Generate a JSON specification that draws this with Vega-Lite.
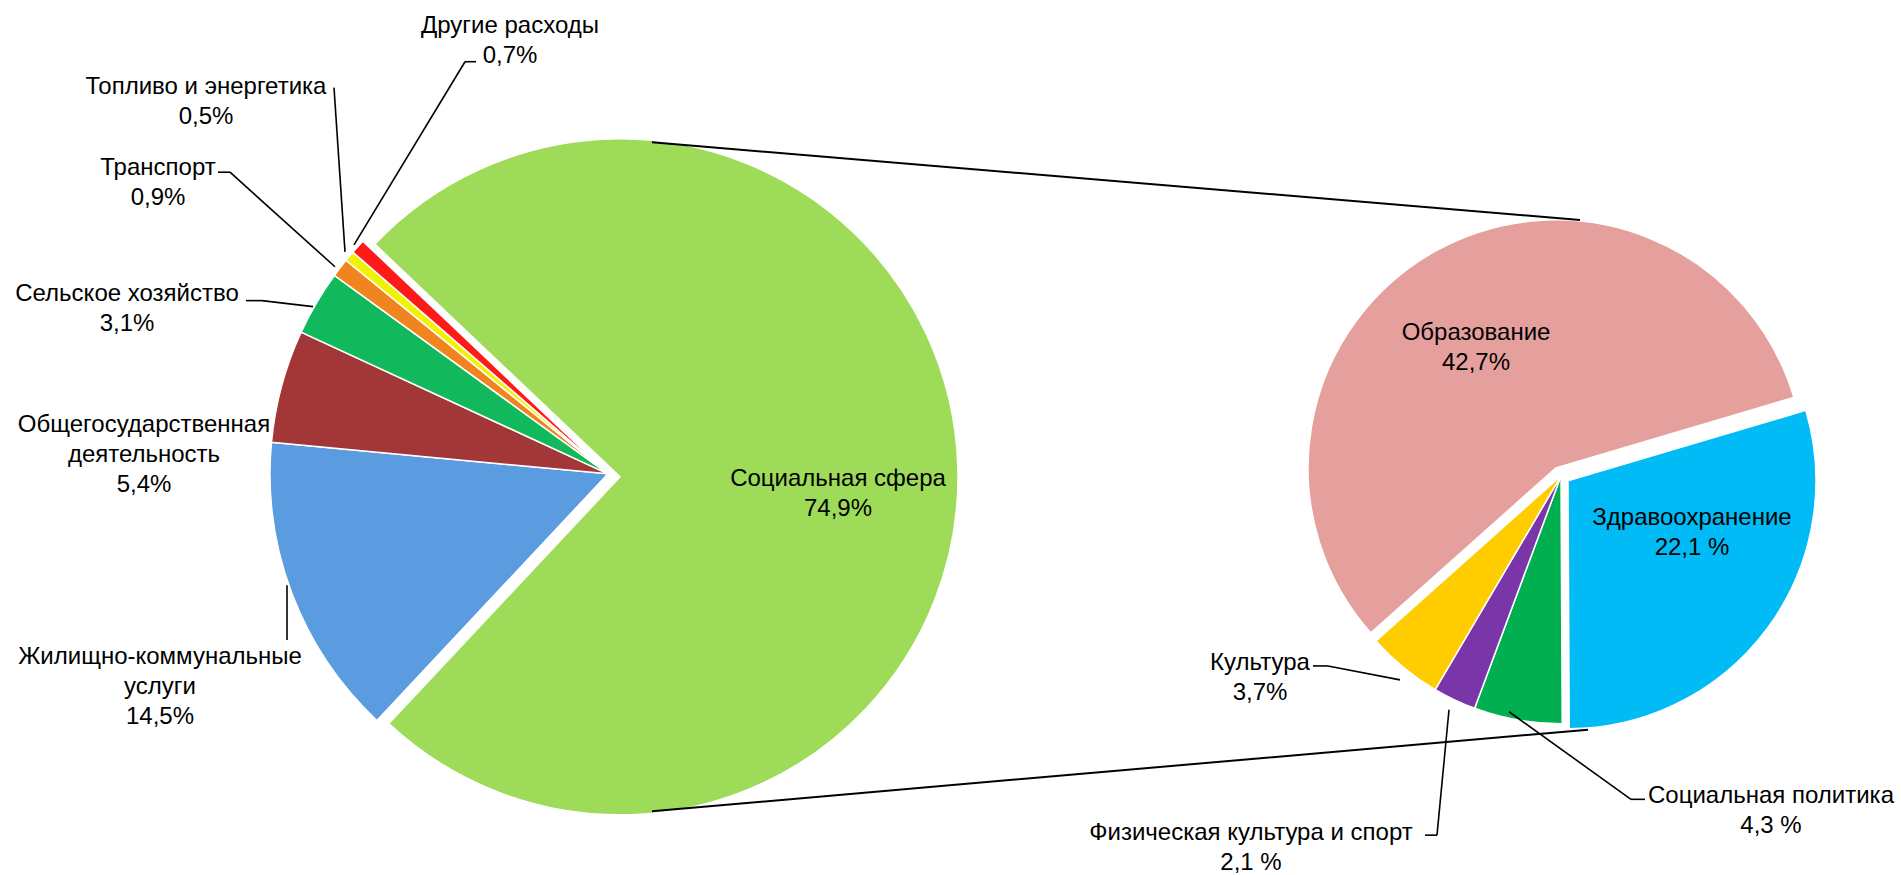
{
  "$schema": "https://vega.github.io/schema/vega-lite/v6.json",
  "width": 1901,
  "height": 875,
  "autosize": {"type": "fit", "contains": "padding"},
  "padding": 0,
  "background": "#ffffff",
  "config": {"view": {"stroke": null}},
  "datasets": {
    "main": [
      {"cat": "Социальная сфера", "v": 74.9, "i": 1},
      {"cat": "Жилищно-коммунальные услуги", "v": 14.5, "i": 2},
      {"cat": "Общегосударственная деятельность", "v": 5.4, "i": 3},
      {"cat": "Сельское хозяйство", "v": 3.1, "i": 4},
      {"cat": "Транспорт", "v": 0.9, "i": 5},
      {"cat": "Топливо и энергетика", "v": 0.5, "i": 6},
      {"cat": "Другие расходы", "v": 0.7, "i": 7}
    ],
    "detail": [
      {"cat": "Здравоохранение", "v": 22.1, "i": 1},
      {"cat": "Социальная политика", "v": 4.3, "i": 2},
      {"cat": "Физическая культура и спорт", "v": 2.1, "i": 3},
      {"cat": "Культура", "v": 3.7, "i": 4},
      {"cat": "Образование", "v": 42.7, "i": 5}
    ],
    "lines": [
      {"k": "connector", "x": 652, "y": 143, "x2": 1580, "y2": 221},
      {"k": "connector", "x": 652, "y": 815, "x2": 1588, "y2": 733},
      {"k": "leader", "x": 476, "y": 62, "x2": 465, "y2": 62},
      {"k": "leader", "x": 465, "y": 62, "x2": 354, "y2": 246},
      {"k": "leader", "x": 334, "y": 88, "x2": 345, "y2": 253},
      {"k": "leader", "x": 218, "y": 173, "x2": 230, "y2": 173},
      {"k": "leader", "x": 230, "y": 173, "x2": 335, "y2": 268},
      {"k": "leader", "x": 246, "y": 302, "x2": 262, "y2": 302},
      {"k": "leader", "x": 262, "y": 302, "x2": 313, "y2": 308},
      {"k": "leader", "x": 287, "y": 588, "x2": 287, "y2": 643},
      {"k": "leader", "x": 1313, "y": 669, "x2": 1328, "y2": 669},
      {"k": "leader", "x": 1328, "y": 669, "x2": 1400, "y2": 683},
      {"k": "leader", "x": 1425, "y": 839, "x2": 1437, "y2": 839},
      {"k": "leader", "x": 1437, "y": 839, "x2": 1449, "y2": 713},
      {"k": "leader", "x": 1645, "y": 803, "x2": 1631, "y2": 803},
      {"k": "leader", "x": 1631, "y": 803, "x2": 1509, "y2": 715}
    ],
    "labels": [
      {"t": "Другие расходы\n0,7%", "x": 510, "y": 33},
      {"t": "Топливо и энергетика\n0,5%", "x": 206, "y": 94},
      {"t": "Транспорт\n0,9%", "x": 158, "y": 176},
      {"t": "Сельское хозяйство\n3,1%", "x": 127, "y": 302},
      {"t": "Общегосударственная\nдеятельность\n5,4%", "x": 144, "y": 434},
      {"t": "Жилищно-коммунальные\nуслуги\n14,5%", "x": 160, "y": 667},
      {"t": "Социальная сфера\n74,9%", "x": 838, "y": 488},
      {"t": "Образование\n42,7%", "x": 1476, "y": 342},
      {"t": "Здравоохранение\n22,1 %", "x": 1692, "y": 527},
      {"t": "Культура\n3,7%", "x": 1260, "y": 673},
      {"t": "Физическая культура и спорт\n2,1 %", "x": 1251, "y": 844},
      {"t": "Социальная политика\n4,3 %", "x": 1771, "y": 807}
    ]
  },
  "resolve": {"scale": {"theta": "independent"}},
  "layer": [
    {
      "data": {"name": "main"},
      "transform": [
        {"stack": "v", "groupby": [], "sort": [{"field": "i", "order": "ascending"}], "as": ["t0", "t1"]},
        {"filter": "datum.cat !== 'Социальная сфера'"}
      ],
      "mark": {"type": "arc", "outerRadius": 338, "stroke": "#ffffff", "strokeWidth": 1.5},
      "encoding": {
        "x": {"datum": 608, "type": "quantitative", "stack": null, "scale": {"domain": [0, 1901], "nice": false, "zero": false}, "axis": null},
        "y": {"datum": 476, "type": "quantitative", "stack": null, "scale": {"domain": [0, 875], "nice": false, "zero": false, "reverse": true}, "axis": null},
        "theta": {"field": "t0", "type": "quantitative", "scale": {"domain": [0, 100], "range": [-0.8116, 5.4716]}},
        "theta2": {"field": "t1"},
        "color": {"field": "cat", "type": "nominal", "legend": null, "scale": {
          "domain": ["Социальная сфера", "Жилищно-коммунальные услуги", "Общегосударственная деятельность", "Сельское хозяйство", "Транспорт", "Топливо и энергетика", "Другие расходы", "Здравоохранение", "Социальная политика", "Физическая культура и спорт", "Культура", "Образование"],
          "range": ["#9DDB58", "#5B9BDF", "#A33636", "#12B85C", "#F0841F", "#F2F200", "#FF1A1A", "#00BBF5", "#00B050", "#7A35A8", "#FFCC00", "#E5A09D"]}}
      }
    },
    {
      "data": {"name": "main"},
      "transform": [
        {"stack": "v", "groupby": [], "sort": [{"field": "i", "order": "ascending"}], "as": ["t0", "t1"]},
        {"filter": "datum.cat === 'Социальная сфера'"}
      ],
      "mark": {"type": "arc", "outerRadius": 338, "stroke": "#ffffff", "strokeWidth": 1.5, "xOffset": 12, "yOffset": 3},
      "encoding": {
        "x": {"datum": 608, "type": "quantitative", "stack": null, "scale": {"domain": [0, 1901], "nice": false, "zero": false}, "axis": null},
        "y": {"datum": 476, "type": "quantitative", "stack": null, "scale": {"domain": [0, 875], "nice": false, "zero": false, "reverse": true}, "axis": null},
        "theta": {"field": "t0", "type": "quantitative", "scale": {"domain": [0, 100], "range": [-0.8116, 5.4716]}},
        "theta2": {"field": "t1"},
        "color": {"field": "cat", "type": "nominal", "legend": null}
      }
    },
    {
      "data": {"name": "detail"},
      "transform": [
        {"stack": "v", "groupby": [], "sort": [{"field": "i", "order": "ascending"}], "as": ["t0", "t1"]},
        {"filter": "datum.cat !== 'Образование' && datum.cat !== 'Здравоохранение'"}
      ],
      "mark": {"type": "arc", "outerRadius": 248, "stroke": "#ffffff", "strokeWidth": 1.5},
      "encoding": {
        "x": {"datum": 1561, "type": "quantitative", "stack": null, "scale": {"domain": [0, 1901], "nice": false, "zero": false}, "axis": null},
        "y": {"datum": 478, "type": "quantitative", "stack": null, "scale": {"domain": [0, 875], "nice": false, "zero": false, "reverse": true}, "axis": null},
        "theta": {"field": "t0", "type": "quantitative", "scale": {"domain": [0, 74.9], "range": [1.2828, 7.566]}},
        "theta2": {"field": "t1"},
        "color": {"field": "cat", "type": "nominal", "legend": null}
      }
    },
    {
      "data": {"name": "detail"},
      "transform": [
        {"stack": "v", "groupby": [], "sort": [{"field": "i", "order": "ascending"}], "as": ["t0", "t1"]},
        {"filter": "datum.cat === 'Образование'"}
      ],
      "mark": {"type": "arc", "outerRadius": 248, "stroke": "#ffffff", "strokeWidth": 1.5, "xOffset": -5, "yOffset": -8},
      "encoding": {
        "x": {"datum": 1561, "type": "quantitative", "stack": null, "scale": {"domain": [0, 1901], "nice": false, "zero": false}, "axis": null},
        "y": {"datum": 478, "type": "quantitative", "stack": null, "scale": {"domain": [0, 875], "nice": false, "zero": false, "reverse": true}, "axis": null},
        "theta": {"field": "t0", "type": "quantitative", "scale": {"domain": [0, 74.9], "range": [1.2828, 7.566]}},
        "theta2": {"field": "t1"},
        "color": {"field": "cat", "type": "nominal", "legend": null}
      }
    },
    {
      "data": {"name": "detail"},
      "transform": [
        {"stack": "v", "groupby": [], "sort": [{"field": "i", "order": "ascending"}], "as": ["t0", "t1"]},
        {"filter": "datum.cat === 'Здравоохранение'"}
      ],
      "mark": {"type": "arc", "outerRadius": 248, "stroke": "#ffffff", "strokeWidth": 1.5, "xOffset": 7, "yOffset": 5},
      "encoding": {
        "x": {"datum": 1561, "type": "quantitative", "stack": null, "scale": {"domain": [0, 1901], "nice": false, "zero": false}, "axis": null},
        "y": {"datum": 478, "type": "quantitative", "stack": null, "scale": {"domain": [0, 875], "nice": false, "zero": false, "reverse": true}, "axis": null},
        "theta": {"field": "t0", "type": "quantitative", "scale": {"domain": [0, 74.9], "range": [1.2828, 7.566]}},
        "theta2": {"field": "t1"},
        "color": {"field": "cat", "type": "nominal", "legend": null}
      }
    },
    {
      "data": {"name": "lines"},
      "mark": {"type": "rule", "color": "#000000"},
      "encoding": {
        "x": {"field": "x", "type": "quantitative", "scale": {"domain": [0, 1901], "nice": false, "zero": false}, "axis": null},
        "y": {"field": "y", "type": "quantitative", "scale": {"domain": [0, 875], "nice": false, "zero": false, "reverse": true}, "axis": null},
        "x2": {"field": "x2"},
        "y2": {"field": "y2"},
        "strokeWidth": {"field": "k", "type": "nominal", "scale": {"domain": ["connector", "leader"], "range": [2, 1.6]}, "legend": null}
      }
    },
    {
      "data": {"name": "labels"},
      "mark": {"type": "text", "font": "Liberation Sans", "fontSize": 24, "lineHeight": 30, "lineBreak": "\n", "align": "center", "baseline": "alphabetic", "color": "#000000"},
      "encoding": {
        "x": {"field": "x", "type": "quantitative", "scale": {"domain": [0, 1901], "nice": false, "zero": false}, "axis": null},
        "y": {"field": "y", "type": "quantitative", "scale": {"domain": [0, 875], "nice": false, "zero": false, "reverse": true}, "axis": null},
        "text": {"field": "t", "type": "nominal"}
      }
    }
  ]
}
